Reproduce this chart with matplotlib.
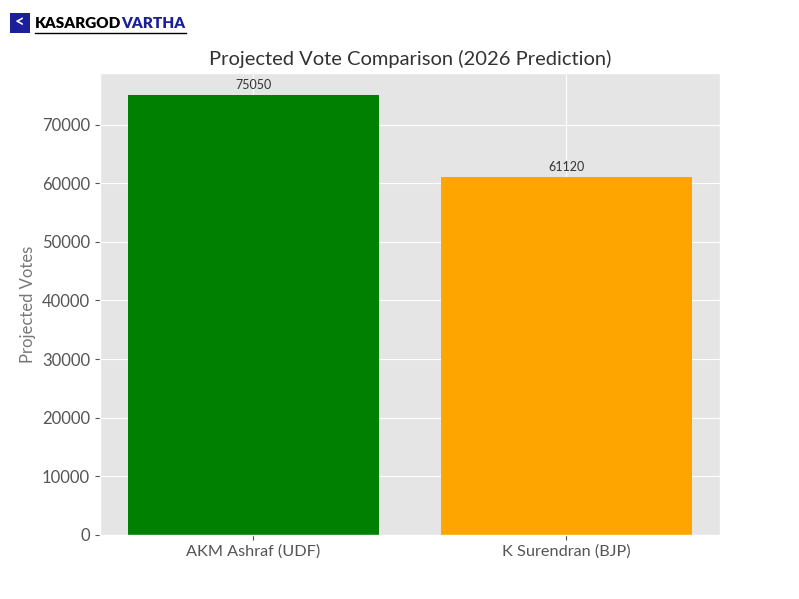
import matplotlib
matplotlib.use("Agg")
import matplotlib.pyplot as plt
from matplotlib.patches import FancyBboxPatch
from matplotlib.lines import Line2D

plt.style.use("ggplot")
plt.rcParams['font.family'] = ['Lato', 'DejaVu Sans']

candidates = ["AKM Ashraf (UDF)", "K Surendran (BJP)"]
votes = [75050, 61120]
colors = ["green", "orange"]

fig = plt.figure(figsize=(7.99, 5.99), dpi=100)
ax = fig.add_axes([0.125, 0.107, 0.776, 0.771])
bars = ax.bar(candidates, votes, color=colors, width=0.8)
for b, v in zip(bars, votes):
    ax.annotate(str(v), (b.get_x() + b.get_width() / 2, v), xytext=(0, 3),
                textcoords="offset points", ha="center", va="bottom",
                fontsize=9, color="#333333")
ax.set_title("Projected Vote Comparison (2026 Prediction)", fontsize=14.5, color="#333333")
ax.set_ylabel("Projected Votes", fontsize=12, color="#777777")
ax.tick_params(axis='y', labelsize=12, colors="#555555")
ax.tick_params(axis='x', labelsize=11.7, colors="#555555")
for lbl in ax.get_xticklabels() + ax.get_yticklabels():
    lbl.set_color("#555555")

# Logo
fig.patches.append(FancyBboxPatch((10/799, 1 - 33/599), 20/799, 20/599,
                                  boxstyle="square,pad=0", transform=fig.transFigure,
                                  facecolor="#1b1f9a", edgecolor="none"))
fig.text(20/799, 1 - 23/599, "<", color="white", fontsize=12, fontweight="bold",
         ha="center", va="center")
t1 = fig.text(35/799, 1 - 23/599, "KASARGOD", color="black", fontsize=11,
              fontweight="heavy", ha="left", va="center")
fig.canvas.draw()
bb = t1.get_window_extent()
t2 = fig.text(bb.x1 / 799, 1 - 23/599, "VARTHA", color="#1b1f9a", fontsize=11,
              fontweight="heavy", ha="left", va="center")
fig.canvas.draw()
bb2 = t2.get_window_extent()
fig.lines.append(Line2D([35/799, bb2.x1/799], [1 - 33/599, 1 - 33/599],
                        transform=fig.transFigure, color="black", lw=1))

fig.savefig("out.png", dpi=100)
